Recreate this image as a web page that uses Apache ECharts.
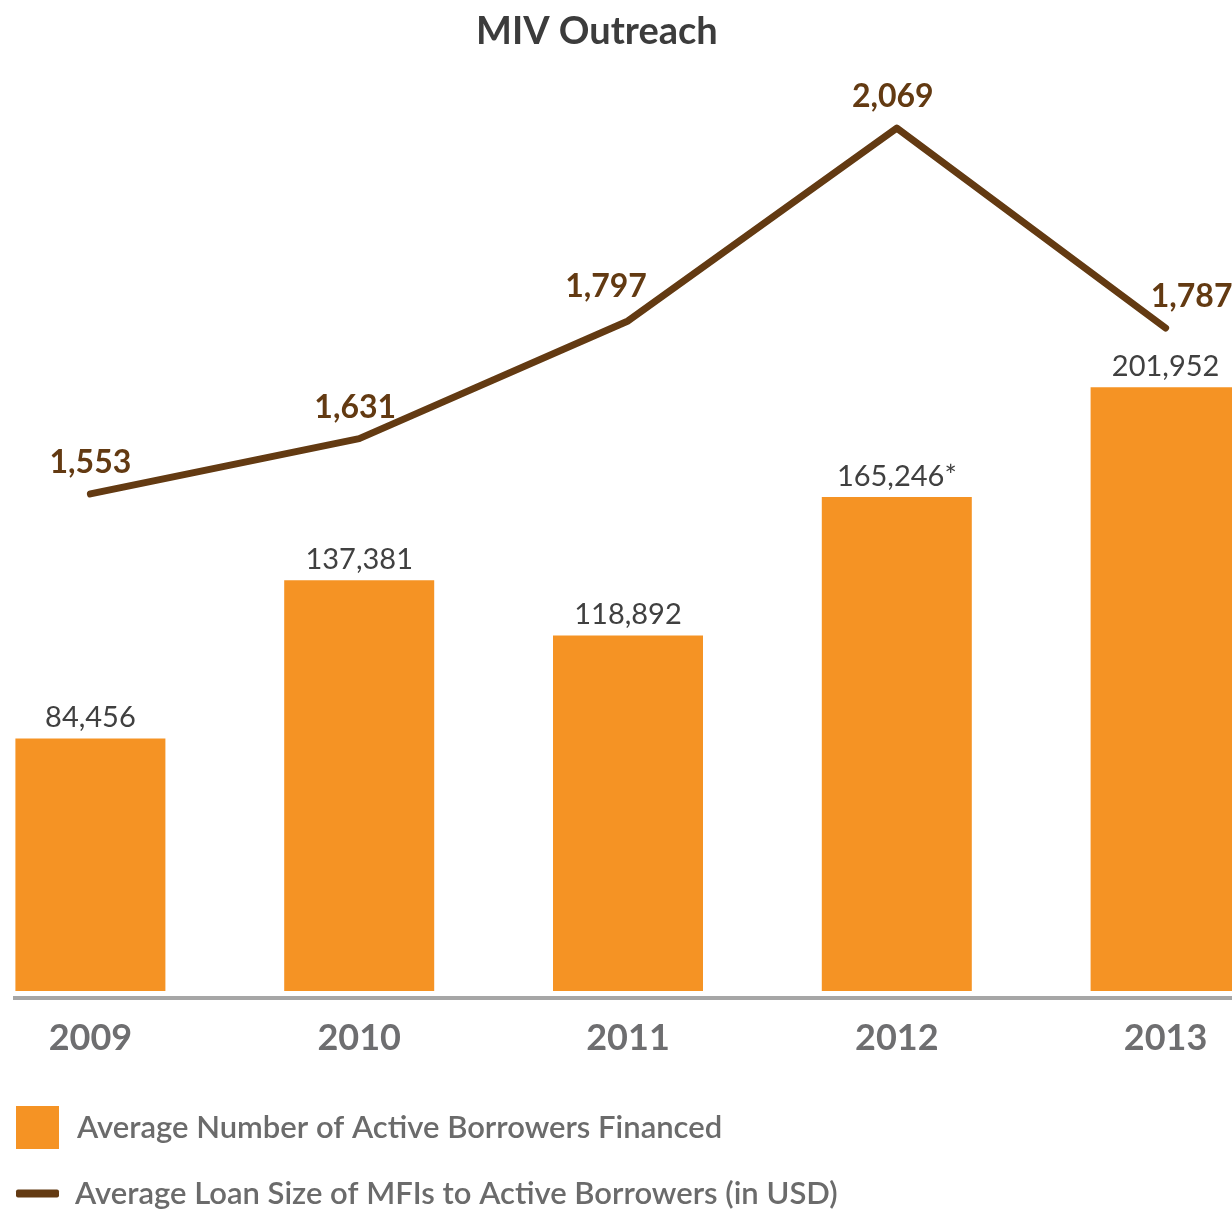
<!DOCTYPE html>
<html>
<head>
<meta charset="utf-8">
<script src="https://cdn.jsdelivr.net/npm/echarts@6/dist/echarts.min.js"></script>
<style>
html,body{margin:0;padding:0;background:#fff;}
#chart{width:1232px;height:1211px;}
</style>
</head>
<body>
<div id="chart"></div>
<script>
const categories = ['2009', '2010', '2011', '2012', '2013'];
const borrowers = [84456, 137381, 118892, 165246, 201952];
const borrowerNotes = ['', '', '', '*', ''];
const loanSize = [1553, 1631, 1797, 2069, 1787];
const seriesNames = ['Average Number of Active Borrowers Financed', 'Average Loan Size of MFIs to Active Borrowers (in USD)'];
const titleText = 'MIV Outreach';

const FONT = 'Lato, "Open Sans", sans-serif';
const ORANGE = '#f59324';
const BROWN = '#633a12';
// per-point label nudges (style only)
const loanLabelOffsets = [[0, 0], [-4, 0], [-22, -3], [-4, 0], [26, 0]];

const chart = echarts.init(document.getElementById('chart'));
chart.setOption({
  animation: false,
  backgroundColor: '#fff',
  title: {
    text: titleText, left: 471, top: 8,
    textStyle: { fontFamily: FONT, fontWeight: 'bold', fontSize: 38, color: '#3c3c3c' }
  },
  legend: [
    {
      data: [seriesNames[0]], orient: 'vertical', left: 16, top: 1106, padding: 0,
      itemWidth: 43, itemHeight: 43, icon: 'rect',
      textStyle: { fontFamily: FONT, fontWeight: 600, fontSize: 31, color: '#6b6b6b', padding: [0, 0, 0, 13] }
    },
    {
      data: [seriesNames[1]], orient: 'vertical', left: 16, top: 1178, padding: 0,
      itemWidth: 43, itemHeight: 8, icon: 'roundRect',
      textStyle: { fontFamily: FONT, fontWeight: 600, fontSize: 31, color: '#6b6b6b', padding: [0, 0, 0, 11] }
    }
  ],
  grid: { left: -44, width: 1344, top: 60, bottom: 220, outerBoundsMode: 'none', containLabel: false },
  xAxis: {
    type: 'category', data: categories,
    axisLine: { show: false }, axisTick: { show: false },
    axisLabel: { margin: 29, fontFamily: FONT, fontWeight: 'bold', fontSize: 36, color: '#6e6e70' }
  },
  yAxis: [
    { type: 'value', min: 0, max: 311400, show: false, splitLine: { show: false } },
    { type: 'value', min: 852, max: 2165, show: false, splitLine: { show: false } }
  ],
  series: [
    {
      name: seriesNames[0], type: 'bar', yAxisIndex: 0, barWidth: 150,
      itemStyle: { color: ORANGE },
      data: borrowers,
      label: {
        show: true, position: 'top', distance: 6,
        fontFamily: FONT, fontSize: 29, color: '#404040',
        formatter: p => p.value.toLocaleString('en-US') + borrowerNotes[p.dataIndex]
      }
    },
    {
      name: seriesNames[1], type: 'line', yAxisIndex: 1, z: 5,
      symbol: 'circle', symbolSize: 2, showSymbol: true,
      lineStyle: { color: BROWN, width: 7, cap: 'round', join: 'round' },
      itemStyle: { color: BROWN },
      data: loanSize.map((v, i) => ({ value: v, label: { offset: loanLabelOffsets[i] } })),
      label: {
        show: true, position: 'top', distance: 14,
        fontFamily: FONT, fontWeight: 'bold', fontSize: 32, color: BROWN,
        formatter: p => p.value.toLocaleString('en-US')
      }
    }
  ],
  graphic: [
    { type: 'line', shape: { x1: 13, y1: 998, x2: 1232, y2: 998 }, style: { stroke: '#a6a6a6', lineWidth: 4 } }
  ]
});
</script>
</body>
</html>
